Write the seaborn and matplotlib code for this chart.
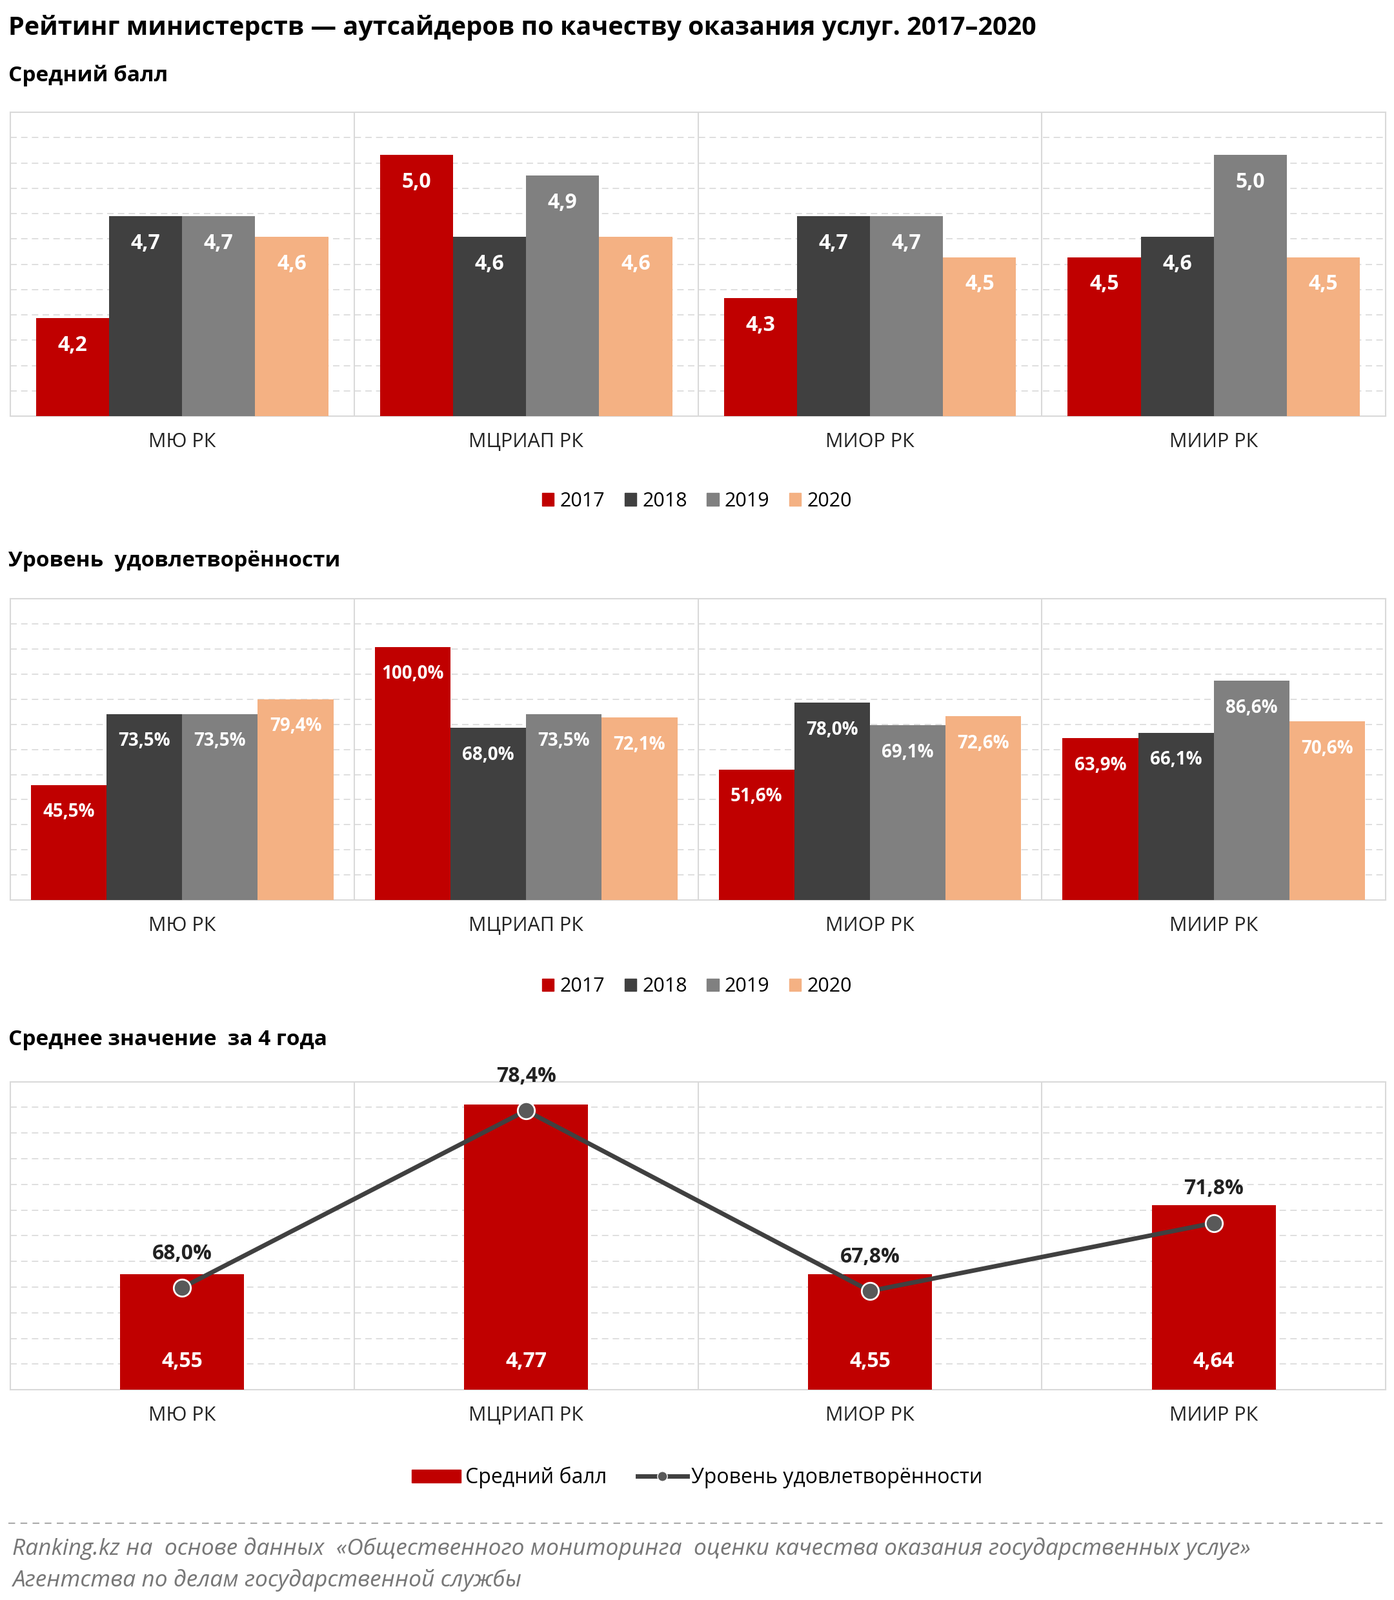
import matplotlib
matplotlib.use("Agg")
import matplotlib.pyplot as plt
import seaborn as sns
import pandas as pd
import numpy as np
from matplotlib.lines import Line2D
from matplotlib.patches import Patch

plt.rcParams["font.family"] = "Open Sans"

categories = ["МЮ РК", "МЦРИАП РК", "МИОР РК", "МИИР РК"]
years = ["2017", "2018", "2019", "2020"]
score = {"2017": [4.2, 5.0, 4.3, 4.5], "2018": [4.7, 4.6, 4.7, 4.6],
         "2019": [4.7, 4.9, 4.7, 5.0], "2020": [4.6, 4.6, 4.5, 4.5]}
satisf = {"2017": [45.5, 100.0, 51.6, 63.9], "2018": [73.5, 68.0, 78.0, 66.1],
          "2019": [73.5, 73.5, 69.1, 86.6], "2020": [79.4, 72.1, 72.6, 70.6]}
avg_score = [4.55, 4.77, 4.55, 4.64]
avg_satisf = [68.0, 78.4, 67.8, 71.8]

colors = ["#C00000", "#404040", "#808080", "#F4B183"]
W, H = 1366, 1568
fig = plt.figure(figsize=(21.6, 24.8), dpi=100)

def rect(x0, y0, x1, y1):
    return [x0 / W, 1 - y1 / H, (x1 - x0) / W, (y1 - y0) / H]

def style(ax, ylo, yhi, n=12):
    ax.set_xlim(-0.5, 3.5)
    ax.set_ylim(ylo, yhi)
    for y in np.linspace(ylo, yhi, n + 1)[1:-1]:
        ax.axhline(y, color="#d9d9d9", lw=1.2, ls=(0, (6, 4)), zorder=0)
    for x in [0.5, 1.5, 2.5]:
        ax.axvline(x, color="#d9d9d9", lw=1.5, zorder=0)
    ax.set_yticks([])
    ax.set_xlabel(""); ax.set_ylabel("")
    ax.tick_params(axis="x", length=0, labelsize=22, pad=18, colors="#222")
    for s in ax.spines.values():
        s.set_color("#d9d9d9"); s.set_linewidth(1.5)
    if ax.get_legend():
        ax.get_legend().remove()

def fmt(v, d=1, pct=False):
    s = f"{v:.{d}f}".replace(".", ",")
    return s + "%" if pct else s

def grouped(rect_, data, ylo, yhi, pct, width):
    ax = fig.add_axes(rect_)
    df = pd.DataFrame([(c, y, data[y][i]) for y in years for i, c in enumerate(categories)],
                      columns=["cat", "year", "val"])
    sns.barplot(data=df, x="cat", y="val", hue="year", palette=colors, ax=ax,
                width=width, gap=0.0, saturation=1, zorder=3)
    for cont in ax.containers:
        for b in cont:
            v = b.get_height()
            ax.text(b.get_x() + b.get_width() / 2, v - (yhi - ylo) * 0.09, fmt(v, 1, pct),
                    ha="center", va="center", color="white", fontsize=20 if pct else 23,
                    fontweight="bold", zorder=5)
            if ylo > 0:
                b.set_y(ylo)
                b.set_height(v - ylo)
    style(ax, ylo, yhi)
    return ax

def legend_years(y):
    handles = [Patch(color=c) for c in colors]
    fig.legend(handles, years, loc="center", bbox_to_anchor=(0.5, 1 - y / H), ncol=4,
               frameon=False, fontsize=22, handlelength=0.6, handleheight=0.6,
               columnspacing=1.0, handletextpad=0.3)

fig.text(8 / W, 1 - 27 / H, "Рейтинг министерств — аутсайдеров по качеству оказания услуг. 2017–2020",
         fontsize=28.5, fontweight="bold", va="center")
fig.text(8 / W, 1 - 74 / H, "Средний балл", fontsize=24, fontweight="bold", va="center")
grouped(rect(10, 110, 1358, 408), score, 3.72, 5.21, False, 0.85)
legend_years(491)

fig.text(8 / W, 1 - 550 / H, "Уровень  удовлетворённости", fontsize=24, fontweight="bold", va="center")
grouped(rect(10, 587, 1358, 882), satisf, 0, 119, True, 0.88)
legend_years(967)

fig.text(8 / W, 1 - 1019 / H, "Среднее значение  за 4 года", fontsize=24, fontweight="bold", va="center")
ax3 = fig.add_axes(rect(10, 1060, 1358, 1362))
sns.barplot(x=categories, y=avg_score, color="#C00000", saturation=1, width=0.36, ax=ax3, zorder=3)
style(ax3, 4.40, 4.80)
for b, v in zip(ax3.patches, avg_score):
    ax3.text(b.get_x() + b.get_width() / 2, 4.437, fmt(v, 2), ha="center", va="center",
             color="white", fontsize=23, fontweight="bold", zorder=5)
ax4 = ax3.twinx()
sns.lineplot(x=np.arange(4), y=avg_satisf, ax=ax4, color="#404040", lw=5, marker="o",
             markersize=19, markerfacecolor="#595959", markeredgecolor="white",
             markeredgewidth=2, zorder=6)
ax4.set_ylim(62, 80.1)
ax4.set_xlim(-0.5, 3.5)
ax4.set_yticks([]); ax4.set_ylabel("")
for s in ax4.spines.values():
    s.set_visible(False)
for i, v in enumerate(avg_satisf):
    ax4.text(i, v + 2.0, fmt(v, 1, True), ha="center", va="center", fontsize=23,
             fontweight="bold", color="#222")
h1 = Patch(color="#C00000")
h2 = Line2D([0], [0], color="#404040", lw=5, marker="o", markersize=11,
            markerfacecolor="#595959", markeredgecolor="white")
fig.legend([h1, h2], ["Средний балл", "Уровень удовлетворённости"], loc="center",
           bbox_to_anchor=(0.5, 1 - 1448 / H), ncol=2, frameon=False, fontsize=23,
           handlelength=2.4, handleheight=0.6, columnspacing=1.5, handletextpad=0.2)

fig.add_artist(Line2D([8 / W, 1358 / W], [1 - 1493 / H] * 2, color="#aaaaaa", lw=1.5,
                      ls=(0, (5, 4))))
fig.text(12 / W, 1 - 1518 / H, "Ranking.kz на  основе данных  «Общественного мониторинга  оценки качества оказания государственных услуг»",
         fontsize=25.5, style="italic", color="#777777", va="center")
fig.text(12 / W, 1 - 1549 / H, "Агентства по делам государственной службы",
         fontsize=25.5, style="italic", color="#777777", va="center")

fig.savefig("out.png", dpi=100, facecolor="white")
